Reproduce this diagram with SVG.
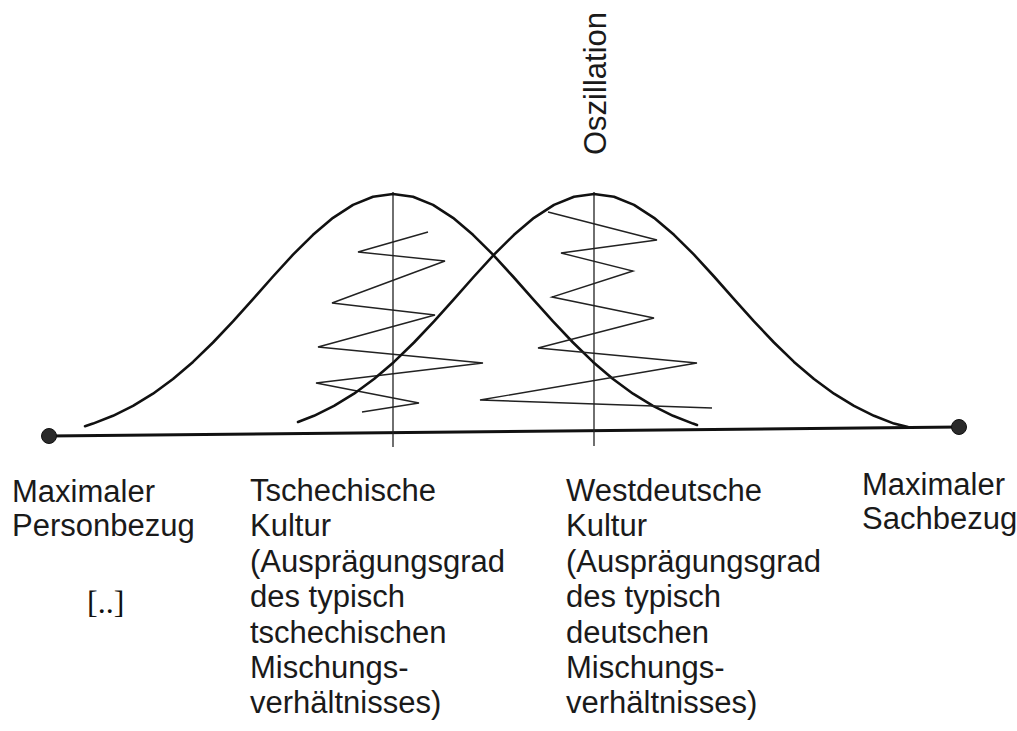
<svg xmlns="http://www.w3.org/2000/svg" width="1017" height="731" viewBox="0 0 1017 731">
<style>
.curve{fill:none;stroke:#111;stroke-width:2.6;stroke-linejoin:round;stroke-linecap:round}
.zig{fill:none;stroke:#222;stroke-width:1.4;stroke-linejoin:miter}
.vline{stroke:#222;stroke-width:1.3}
.axis{stroke:#111;stroke-width:3}
.lbl{font-family:"Liberation Sans",Arial,Helvetica,sans-serif;font-size:31px;fill:#1a1a1a}
.ser{font-family:"Liberation Serif","Times New Roman",serif;font-size:32px;fill:#111}
</style>
<rect width="1017" height="731" fill="#fff"/>
<g id="connectors">
<line class="axis" x1="48" y1="436" x2="960" y2="427"/>
<line class="vline" x1="393" y1="192" x2="393" y2="447"/>
<line class="vline" x1="594" y1="192" x2="594" y2="446"/>
</g>
<g id="curve-czech">
<polyline class="curve" points="85,426.2 93,423.6 113,415.8 133,405.9 153,393.7 173,379 193,361.9 213,342.5 233,321.4 253,299.1 273,276.5 293,254.7 313,234.8 333,217.8 353,204.9 373,196.8 393,194 413,196.8 433,204.9 453,217.8 473,234.8 493,254.7 513,276.5 533,299.1 553,321.4 573,342.5 593,361.9 613,379 633,393.7 653,405.9 673,415.8 693,423.6 697,425"/>
<polyline class="zig" points="428,232 358,252 445,261 332,303 435,315 318,347 483,363 316,383 419,403 362,412"/>
</g>
<g id="curve-german">
<polyline class="curve" points="298,422 314,415.8 334,405.9 354,393.7 374,379 394,361.9 414,342.5 434,321.4 454,299.1 474,276.5 494,254.7 514,234.8 534,217.8 554,204.9 574,196.8 594,194 614,196.8 634,204.9 654,217.8 674,234.8 694,254.7 714,276.5 734,299.1 754,321.4 774,342.5 794,361.9 814,379 834,393.7 854,405.9 874,415.8 894,423.6 908,427"/>
<polyline class="zig" points="548,212 657,240 561,253 633,271 552,297 654,318 538,348 697,363 480,400 712,408"/>
</g>
<g id="endpoint-left"><circle cx="49" cy="436" r="7.5" fill="#2a2a2a" stroke="#111" stroke-width="1"/></g>
<g id="endpoint-right"><circle cx="959" cy="427" r="7.5" fill="#2a2a2a" stroke="#111" stroke-width="1"/></g>
<g id="label-oszillation"><text class="lbl" transform="translate(606,155) rotate(-90)">Oszillation</text></g>
<g id="label-person">
<text class="lbl" x="12" y="502">Maximaler</text>
<text class="lbl" x="12" y="536">Personbezug</text>
<text class="ser" x="87" y="613">[..]</text>
</g>
<g id="label-czech">
<text class="lbl" x="250" y="501">Tschechische</text>
<text class="lbl" x="250" y="536">Kultur</text>
<text class="lbl" x="250" y="572">(Ausprägungsgrad</text>
<text class="lbl" x="250" y="607">des typisch</text>
<text class="lbl" x="250" y="643">tschechischen</text>
<text class="lbl" x="250" y="678">Mischungs-</text>
<text class="lbl" x="250" y="713">verhältnisses)</text>
</g>
<g id="label-german">
<text class="lbl" x="566" y="501">Westdeutsche</text>
<text class="lbl" x="566" y="536">Kultur</text>
<text class="lbl" x="566" y="572">(Ausprägungsgrad</text>
<text class="lbl" x="566" y="607">des typisch</text>
<text class="lbl" x="566" y="643">deutschen</text>
<text class="lbl" x="566" y="678">Mischungs-</text>
<text class="lbl" x="566" y="713">verhältnisses)</text>
</g>
<g id="label-sach">
<text class="lbl" x="862" y="495">Maximaler</text>
<text class="lbl" x="862" y="529">Sachbezug</text>
</g>
</svg>
